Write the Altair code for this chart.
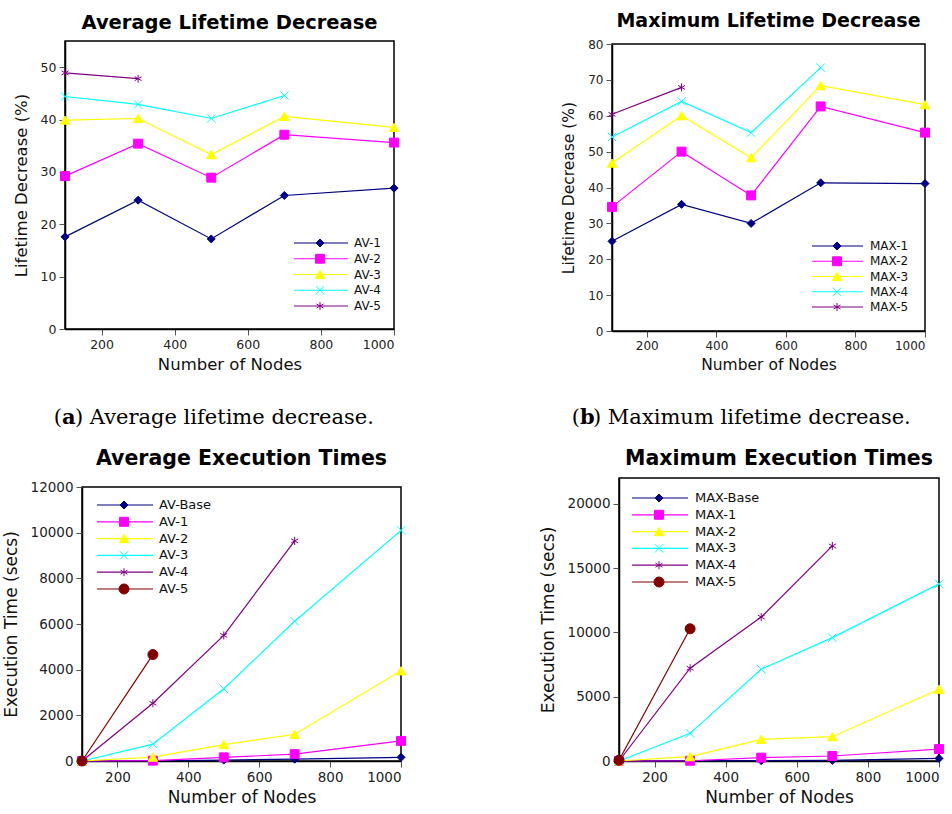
import altair as alt
import pandas as pd

# ---------------- data ----------------
nodes = [100, 300, 500, 700, 1000]

# (a) Average lifetime decrease (%)
av1_life = [17.6, 24.6, 17.2, 25.5, 26.9]
av2_life = [29.2, 35.4, 28.9, 37.1, 35.6]
av3_life = [39.9, 40.2, 33.3, 40.6, 38.5]
av4_life = [44.4, 42.9, 40.2, 44.6, None]
av5_life = [48.9, 47.8, None, None, None]

# (b) Maximum lifetime decrease (%)
max1_life = [25.0, 35.3, 30.0, 41.3, 41.1]
max2_life = [34.6, 50.0, 37.8, 62.6, 55.3]
max3_life = [46.8, 60.0, 48.3, 68.4, 63.1]
max4_life = [54.1, 64.0, 55.3, 73.4, None]
max5_life = [60.4, 67.9, None, None, None]

# (c) Average execution times (secs)
avbase_time = [0, 10, 40, 80, 160]
av1_time = [0, 15, 160, 300, 880]
av2_time = [0, 170, 720, 1170, 3950]
av3_time = [0, 740, 3160, 6120, 10100]
av4_time = [0, 2530, 5500, 9640, None]
av5_time = [0, 4660, None, None, None]

# (d) Maximum execution times (secs)
maxbase_time = [0, 10, 30, 50, 200]
max1_time = [0, 20, 260, 390, 930]
max2_time = [0, 340, 1680, 1890, 5580]
max3_time = [0, 2150, 7130, 9590, 13770]
max4_time = [0, 7210, 11190, 16720, None]
max5_time = [60, 10280, None, None, None]

life_av_names = ["AV-1", "AV-2", "AV-3", "AV-4", "AV-5"]
life_max_names = ["MAX-1", "MAX-2", "MAX-3", "MAX-4", "MAX-5"]
time_av_names = ["AV-Base", "AV-1", "AV-2", "AV-3", "AV-4", "AV-5"]
time_max_names = ["MAX-Base", "MAX-1", "MAX-2", "MAX-3", "MAX-4", "MAX-5"]

x_ticks = [200, 400, 600, 800, 1000]

# ---------------- styles ----------------
NAVY, MAG, YEL, CYA, PUR, MAR = "#000080", "#ff00ff", "#ffff00", "#00ffff", "#800080", "#800000"
X_SHAPE = "M-1,-1L1,1M-1,1L1,-1"
STAR_SHAPE = "M0,-1L0,1M-0.87,-0.5L0.87,0.5M-0.87,0.5L0.87,-0.5"

life_colors = [NAVY, MAG, YEL, CYA, PUR]
life_shapes = ["diamond", "square", "triangle-up", X_SHAPE, STAR_SHAPE]
life_fills = [NAVY, MAG, YEL, "transparent", "transparent"]
life_sizes = [64, 80, 90, 70, 64]

time_colors = [NAVY, MAG, YEL, CYA, PUR, MAR]
time_shapes = ["diamond", "square", "triangle-up", X_SHAPE, STAR_SHAPE, "circle"]
time_fills = [NAVY, MAG, YEL, "transparent", "transparent", MAR]
time_sizes = [64, 80, 90, 70, 64, 100]

SANS = "DejaVu Sans"
SERIF = "DejaVu Serif"
INDEP = dict(color="independent", shape="independent", fill="independent",
             stroke="independent", size="independent")
FRAME = alt.ViewBackground(stroke="black", strokeWidth=1.5)
NOFRAME = alt.ViewBackground(stroke="transparent")


def long_df(names, arrays):
    rows = []
    for name, arr in zip(names, arrays):
        for n, v in zip(nodes, arr):
            if v is not None:
                rows.append({"series": name, "nodes": n, "value": v})
    return pd.DataFrame(rows)


def panel(title, names, arrays, colors, shapes, fills, sizes, ydom, yticks, ytitle,
          w, h, tsize, toff, lab_size, ax_title_size, ytitle_pad, leg, caption=None):
    df = long_df(names, arrays)
    col = alt.Color("series:N", scale=alt.Scale(domain=names, range=colors), legend=None)
    shp = alt.Shape("series:N", scale=alt.Scale(domain=names, range=shapes), legend=None)
    fil = alt.Fill("series:N", scale=alt.Scale(domain=names, range=fills), legend=None)
    stk = alt.Stroke("series:N", scale=alt.Scale(domain=names, range=colors), legend=None)
    siz = alt.Size("series:N", scale=alt.Scale(type="ordinal", domain=names, range=sizes), legend=None)

    x = alt.X("nodes:Q",
              scale=alt.Scale(domain=[100, 1000], nice=False, zero=False),
              axis=alt.Axis(values=x_ticks, format="d", title="Number of Nodes",
                            labelFontSize=lab_size, titleFontSize=ax_title_size,
                            labelFont=SANS, titleFont=SANS, titleFontWeight="normal",
                            labelPadding=3, titlePadding=6))
    y = alt.Y("value:Q",
              scale=alt.Scale(domain=ydom, nice=False),
              axis=alt.Axis(values=yticks, format="d", title=ytitle,
                            labelFontSize=lab_size, titleFontSize=ax_title_size,
                            labelFont=SANS, titleFont=SANS, titleFontWeight="normal",
                            labelPadding=3, titlePadding=ytitle_pad))

    base = alt.Chart(df)
    lines = base.mark_line(strokeWidth=1.2).encode(x=x, y=y, color=col)
    pts = base.mark_point(opacity=1, strokeWidth=1).encode(
        x=x, y=y, shape=shp, fill=fil, stroke=stk, size=siz)
    main = alt.layer(lines, pts)

    # manual legend (line + marker + label)
    ldf = pd.DataFrame({"series": names, "idx": list(range(len(names)))})
    ly = alt.Y("idx:Q", scale=alt.Scale(domain=[0, len(names) - 1], range=[leg["y0"], leg["y1"]]),
               axis=None)
    lbase = alt.Chart(ldf)
    lrule = lbase.mark_rule(strokeWidth=1.2).encode(
        x=alt.value(leg["x1"]), x2=alt.value(leg["x2"]), y=ly, color=col)
    lpt = lbase.mark_point(opacity=1, strokeWidth=1).encode(
        x=alt.value(leg["xm"]), y=ly, shape=shp, fill=fil, stroke=stk, size=siz)
    ltxt = lbase.mark_text(align="left", baseline="middle", font=SANS,
                           fontSize=leg["fs"], color="#111").encode(
        x=alt.value(leg["xt"]), y=ly, text="series:N")
    legend = alt.layer(lrule, lpt, ltxt)

    layers = [main, legend]
    if caption is not None:
        letter, rest, cx, cy = caption
        cdf = pd.DataFrame({"a": [0]})
        c1 = alt.Chart(cdf).mark_text(align="right", baseline="alphabetic", font=SERIF,
                                      fontSize=21, color="black").encode(
            x=alt.value(cx), y=alt.value(cy), text=alt.value("("))
        c2 = alt.Chart(cdf).mark_text(align="left", baseline="alphabetic", font=SERIF,
                                      fontSize=21, fontWeight="bold", color="black").encode(
            x=alt.value(cx), y=alt.value(cy), text=alt.value(letter))
        c3 = alt.Chart(cdf).mark_text(align="left", baseline="alphabetic", font=SERIF,
                                      fontSize=21, color="black").encode(
            x=alt.value(cx + 13), y=alt.value(cy), text=alt.value(rest))
        layers.append(alt.layer(c1, c2, c3))

    ch = alt.layer(*layers).resolve_scale(y="independent").properties(
        width=w, height=h, view=FRAME,
        title=alt.TitleParams(title, font=SANS, fontSize=tsize, fontWeight="bold",
                              color="black", anchor="middle", offset=toff))
    return ch


def spacer():
    # invisible 1x1 layout helper (no data)
    return alt.Chart(pd.DataFrame({"s": []})).mark_point(opacity=0).encode(
        x=alt.value(0), y=alt.value(0)).properties(width=1, height=1, view=NOFRAME)


def vshift(ch, dy):
    return alt.vconcat(spacer(), ch, spacing=dy).resolve_scale(**INDEP)


def hshift(ch, dx):
    return alt.hconcat(spacer(), ch, spacing=dx).resolve_scale(**INDEP)


pa = panel("Average Lifetime Decrease", life_av_names,
           [av1_life, av2_life, av3_life, av4_life, av5_life],
           life_colors, life_shapes, life_fills, life_sizes,
           [0, 55], [0, 10, 20, 30, 40, 50], "Lifetime Decrease (%)",
           329, 288, 19.5, 8, 12.5, 16.5, 11,
           {"x1": 229, "x2": 283, "xm": 255, "xt": 289, "y0": 202, "y1": 265, "fs": 12},
           caption=("a", ") Average lifetime decrease.", -3, 383))

pb = panel("Maximum Lifetime Decrease", life_max_names,
           [max1_life, max2_life, max3_life, max4_life, max5_life],
           life_colors, life_shapes, life_fills, life_sizes,
           [0, 80], [0, 10, 20, 30, 40, 50, 60, 70, 80], "Lifetime Decrease (%)",
           313, 287, 19, 7, 12, 15.5, 11,
           {"x1": 200, "x2": 251, "xm": 225, "xt": 258, "y0": 202, "y1": 263, "fs": 12},
           caption=("b", ") Maximum lifetime decrease.", -32, 380))

pc = panel("Average Execution Times", time_av_names,
           [avbase_time, av1_time, av2_time, av3_time, av4_time, av5_time],
           time_colors, time_shapes, time_fills, time_sizes,
           [0, 12000], [0, 2000, 4000, 6000, 8000, 10000, 12000], "Execution Time (secs)",
           319, 274, 20.5, 11, 13.5, 17, 10,
           {"x1": 15, "x2": 71, "xm": 42, "xt": 77, "y0": 18, "y1": 102, "fs": 13})

pd_ = panel("Maximum Execution Times", time_max_names,
            [maxbase_time, max1_time, max2_time, max3_time, max4_time, max5_time],
            time_colors, time_shapes, time_fills, time_sizes,
            [0, 22000], [0, 5000, 10000, 15000, 20000], "Execution Time (secs)",
            320, 283, 20.5, 9, 13.5, 17, 10,
            {"x1": 13, "x2": 69, "xm": 40, "xt": 76, "y0": 20, "y1": 104, "fs": 13})

row1 = hshift(alt.hconcat(vshift(pa, 0), vshift(pb, 0), spacing=158).resolve_scale(**INDEP), 11)
row2 = hshift(alt.hconcat(vshift(pc, 0), vshift(pd_, 0), spacing=129).resolve_scale(**INDEP), 0)

chart = alt.vconcat(row1, row2, spacing=15).resolve_scale(**INDEP).properties(
    padding={"left": -2, "top": 8, "right": 0, "bottom": 0}
).configure_view(
    stroke="transparent"
).configure_axis(
    grid=False, domainColor="black", domainWidth=1.5, tickColor="#555", tickSize=6,
    labelFont=SANS, labelColor="#222", titleFont=SANS, titleFontWeight="normal",
    titleColor="#111"
)

chart.save("out.html", embed_options={"renderer": "svg", "actions": False})
